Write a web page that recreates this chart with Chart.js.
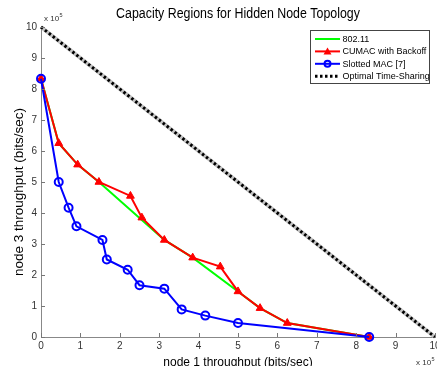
<!DOCTYPE html>
<html>
<head>
<meta charset="utf-8">
<title>Capacity Regions for Hidden Node Topology</title>
<script src="https://cdn.jsdelivr.net/npm/chart.js@4.4.1/dist/chart.umd.min.js"></script>
<style>
  html, body { margin: 0; padding: 0; background: #fff; }
  #chart-wrap { width: 437px; height: 366px; position: relative; }
</style>
</head>
<body>
<div id="chart-wrap"><canvas id="capacity-chart"></canvas></div>
<script>
// Chart data (throughput in units of 10^5 bits/sec)

const tickValues = [0, 1, 2, 3, 4, 5, 6, 7, 8, 9, 10];

const dcfNode1 = [0, 0.45, 0.93, 1.47, 3.13, 3.85, 5.0, 5.56, 6.25, 8.33];
const dcfNode3 = [8.33, 6.25, 5.56, 5.0, 3.13, 2.56, 1.47, 0.93, 0.45, 0];

const cumacNode1 = [0, 0.45, 0.93, 1.47, 2.27, 2.56, 3.13, 3.85, 4.55, 5.0, 5.56, 6.25, 8.33];
const cumacNode3 = [8.33, 6.25, 5.56, 5.0, 4.55, 3.85, 3.13, 2.56, 2.27, 1.47, 0.93, 0.45, 0];

const slottedNode1 = [0, 0.45, 0.7, 0.9, 1.56, 1.67, 2.2, 2.5, 3.13, 3.57, 4.17, 5.0, 8.33];
const slottedNode3 = [8.33, 5.0, 4.17, 3.57, 3.13, 2.5, 2.17, 1.67, 1.56, 0.89, 0.69, 0.45, 0];

const optimalNode1 = [0, 10];
const optimalNode3 = [10, 0];

const FONT = "'Liberation Sans', Arial, Helvetica, sans-serif";
const TITLE = "Capacity Regions for Hidden Node Topology";
const Y_TITLE = "node 3 throughput (bits/sec)";

function toPoints(xs, ys) {
  return xs.map((x, i) => ({ x: x, y: ys[i] }));
}

document.addEventListener("DOMContentLoaded", function () {
  const ctx = document.getElementById("capacity-chart");

  // MATLAB style extras: titles, inward ticks, x labels, x10^5, boxed legend
  const matlabExtras = {
    id: "matlabExtras",
    afterDraw(chart) {
      const c = chart.ctx;
      const xs = chart.scales.x;
      const ys = chart.scales.y;
      const area = chart.chartArea;

      c.save();

      // title, centred over the plot area
      c.save();
      c.fillStyle = "#000";
      c.font = "12.4px " + FONT;
      c.textAlign = "center";
      c.textBaseline = "middle";
      c.translate((area.left + area.right) / 2, 14);
      c.scale(1, 1.15);
      c.fillText(TITLE, 0, 0);
      c.restore();

      // y axis title
      c.save();
      c.fillStyle = "#000";
      c.font = "13.5px " + FONT;
      c.textAlign = "center";
      c.textBaseline = "middle";
      c.translate(19, 192);
      c.rotate(-Math.PI / 2);
      c.fillText(Y_TITLE, 0, 0);
      c.restore();

      c.strokeStyle = "#777";
      c.lineWidth = 1;
      tickValues.forEach((v) => {
        const px = Math.round(xs.getPixelForValue(v)) + 0.5;
        c.beginPath();
        c.moveTo(px, area.bottom);
        c.lineTo(px, area.bottom - 4);
        c.stroke();
        const py = Math.round(ys.getPixelForValue(v)) + 0.5;
        c.beginPath();
        c.moveTo(area.left, py);
        c.lineTo(area.left + 4, py);
        c.stroke();
      });

      // x tick labels (last one runs off the canvas edge)
      c.fillStyle = "#333";
      c.font = "10px " + FONT;
      c.textAlign = "center";
      c.textBaseline = "middle";
      tickValues.forEach((v) => {
        c.fillText(String(v), xs.getPixelForValue(v), area.bottom + 9.5);
      });

      // exponent labels
      c.textBaseline = "middle";
      c.textAlign = "left";
      function expLabel(x, y) {
        c.font = "8px " + FONT;
        c.fillText("x 10", x, y);
        const w = c.measureText("x 10").width;
        c.font = "5.5px " + FONT;
        c.fillText("5", x + w + 0.5, y - 4);
      }
      expLabel(area.left + 3, 19);
      expLabel(416, 363);

      // legend
      const box = { left: 310.5, top: 30.5, right: 429.5, bottom: 83.5 };
      c.fillStyle = "#fff";
      c.fillRect(box.left, box.top, box.right - box.left, box.bottom - box.top);
      c.strokeStyle = "#444";
      c.strokeRect(box.left, box.top, box.right - box.left, box.bottom - box.top);

      const items = chart.data.datasets.filter((d) => !d.legendHide);
      items.forEach((d, i) => {
        const y = 39 + i * 12.4;
        c.save();
        c.strokeStyle = d.borderColor;
        c.lineWidth = d.borderWidth;
        c.setLineDash(d.borderDash || []);
        c.beginPath();
        c.moveTo(315, y);
        c.lineTo(340, y);
        c.stroke();
        c.setLineDash([]);
        if (d.pointStyle === "triangle") {
          c.fillStyle = d.pointBackgroundColor;
          c.beginPath();
          c.moveTo(327.5, y - 4);
          c.lineTo(331.5, y + 3);
          c.lineTo(323.5, y + 3);
          c.closePath();
          c.fill();
        } else if (d.pointStyle === "circle" && d.pointRadius > 0) {
          c.lineWidth = d.pointBorderWidth;
          c.beginPath();
          c.arc(327.5, y, 3, 0, Math.PI * 2);
          c.stroke();
        }
        c.restore();
        c.fillStyle = "#000";
        c.font = "9px " + FONT;
        c.textBaseline = "middle";
        c.textAlign = "left";
        c.fillText(d.label, 342.5, y + 0.5);
      });
      c.restore();
    },
  };

  new Chart(ctx, {
    type: "scatter",
    data: {
      datasets: [
        {
          label: "802.11",
          data: toPoints(dcfNode1, dcfNode3),
          showLine: true,
          borderColor: "#00ff00",
          backgroundColor: "#00ff00",
          borderWidth: 2,
          pointRadius: 0,
          order: 3,
          clip: 8,
        },
        {
          label: "CUMAC with Backoff",
          data: toPoints(cumacNode1, cumacNode3),
          showLine: true,
          borderColor: "#ff0000",
          backgroundColor: "#ff0000",
          borderWidth: 2,
          pointStyle: "triangle",
          pointRadius: 4.5,
          pointBackgroundColor: "#ff0000",
          pointBorderColor: "#ff0000",
          pointBorderWidth: 1,
          order: 2,
          clip: 8,
        },
        {
          label: "Slotted MAC [7]",
          data: toPoints(slottedNode1, slottedNode3),
          showLine: true,
          borderColor: "#0000ff",
          backgroundColor: "rgba(0,0,0,0)",
          borderWidth: 2,
          pointStyle: "circle",
          pointRadius: 4,
          pointBackgroundColor: "rgba(0,0,0,0)",
          pointBorderColor: "#0000ff",
          pointBorderWidth: 2,
          order: 1,
          clip: 8,
        },
        {
          label: "Optimal Time-Sharing",
          data: toPoints(optimalNode1, optimalNode3),
          showLine: true,
          borderColor: "#000000",
          borderWidth: 3,
          borderDash: [2.5, 2.5],
          borderCapStyle: "butt",
          pointRadius: 0,
          order: 0,
          clip: 8,
        },
        {
          // soft grey band under the dotted line
          label: "Optimal band",
          legendHide: true,
          data: toPoints(optimalNode1, optimalNode3),
          showLine: true,
          borderColor: "#c4c4c4",
          borderWidth: 4,
          pointRadius: 0,
          order: 4,
          clip: 8,
        },
      ],
    },
    options: {
      responsive: true,
      maintainAspectRatio: false,
      animation: false,
      layout: {
        autoPadding: false,
        padding: { top: 27, left: 0, right: 2, bottom: 0 },
      },
      plugins: {
        legend: { display: false },
        tooltip: { enabled: false },
        title: { display: false },
      },
      scales: {
        x: {
          type: "linear",
          min: 0,
          max: 10,
          afterBuildTicks: (scale) => {
            scale.ticks = tickValues.map((v) => ({ value: v }));
          },
          afterFit: (scale) => {
            scale.height = 29;
          },
          ticks: { display: false },
          grid: { display: false, drawTicks: false },
          border: { display: true, color: "#888", width: 1 },
          title: {
            display: true,
            text: "node 1 throughput (bits/sec)",
            color: "#000",
            font: { family: FONT, size: 12 },
            padding: { top: 0, bottom: -3.5 },
          },
        },
        y: {
          type: "linear",
          min: 0,
          max: 10,
          afterBuildTicks: (scale) => {
            scale.ticks = tickValues.map((v) => ({ value: v }));
          },
          afterFit: (scale) => {
            scale.width = 41;
          },
          ticks: {
            color: "#333",
            font: { family: FONT, size: 10 },
            padding: 4,
            autoSkip: false,
          },
          grid: { display: false, drawTicks: false },
          border: { display: true, color: "#888", width: 1 },
          title: { display: false },
        },
      },
    },
    plugins: [matlabExtras],
  });
});
</script>
</body>
</html>
